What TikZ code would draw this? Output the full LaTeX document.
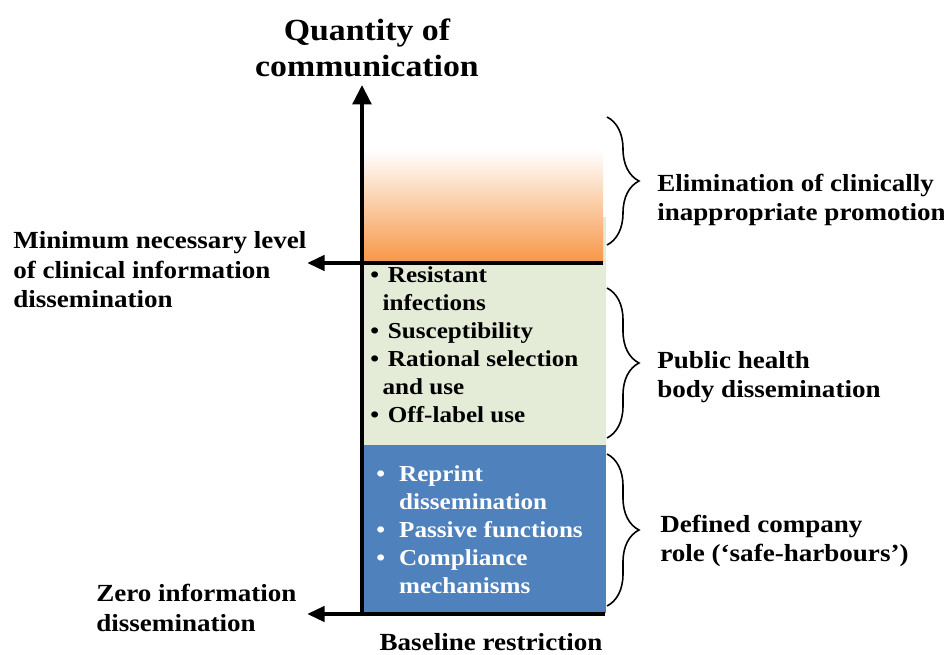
\documentclass[tikz,border=0pt]{standalone}
\usepackage{fontspec}
\setmainfont[FakeStretch=1.1]{Liberation Serif}
\usetikzlibrary{arrows.meta,positioning,decorations.pathreplacing}

\definecolor{promoorange}{RGB}{247,150,70}
\definecolor{healthgreen}{RGB}{228,235,214}
\definecolor{companyblue}{RGB}{79,129,189}

\begin{document}
\begin{tikzpicture}[x=0.02cm, y=-0.02cm,
    axisline/.style={line width=2.3pt, -{Triangle[length=11pt,width=10.5pt]}},
    levelline/.style={line width=2.5pt, -{Triangle[length=10pt,width=8.5pt]}},
    curly/.style={line width=0.9pt, decorate, decoration={brace, amplitude=0.64cm}},
    lbl/.style={font=\fontsize{14}{16.8}\selectfont\bfseries, align=left, inner sep=0pt},
    items/.style={font=\fontsize{13}{15.9}\selectfont\bfseries, inner sep=0pt}]
    \useasboundingbox (0,0) rectangle (944,655);

    % coloured bands
    \fill[healthgreen] (364,217) rectangle (606,445);
    \shade[top color=white, bottom color=promoorange] (364,150) rectangle (603,263);
    \fill[companyblue] (364,445) rectangle (606,613);

    % axis and the two levels
    \coordinate (origin) at (362,615);
    \coordinate (ytip) at (362,85);
    \coordinate (zeroend) at (605,614);
    \coordinate (zerotip) at (307,614);
    \coordinate (minend) at (603,263);
    \coordinate (mintip) at (307,263);
    \draw[axisline] (origin) -- (ytip);
    \draw[levelline] (zeroend) -- (zerotip);
    \draw[levelline] (minend) -- (mintip);

    \node[font=\fontsize{17.5}{20.5}\selectfont\bfseries, align=center] (title) at (367,48)
      {Quantity of\\communication};
    \node[lbl] (baseline) at (491,642) {Baseline restriction};

    % left labels
    \node[lbl, anchor=west] (minlevel) at (13,270)
      {Minimum necessary level\\of clinical information\\dissemination};
    \node[lbl, anchor=west] (zero) at (96,608) {Zero information\\dissemination};

    % contents of the bands
    \node[items, anchor=west] (greenlist) at (370,347) {%
      \begin{tabular}{@{}l@{\hspace{5pt}}l@{}}
        \textbullet & Resistant\\
                    & \hspace{-3pt}infections\\
        \textbullet & Susceptibility\\
        \textbullet & Rational selection\\
                    & \hspace{-3pt}and use\\
        \textbullet & Off-label use
      \end{tabular}};
    \node[items, text=white, anchor=west] (bluelist) at (376,532) {%
      \begin{tabular}{@{}l@{\hspace{8pt}}l@{}}
        \textbullet & Reprint\\
                    & dissemination\\
        \textbullet & Passive functions\\
        \textbullet & Compliance\\
                    & mechanisms
      \end{tabular}};

    % braces
    \draw[curly] (607,117) -- (607,245);
    \draw[curly] (607,288) -- (607,438);
    \draw[curly] (607,454) -- (607,606);

    % right labels
    \node[lbl, anchor=west] (elim) at (657,200)
      {Elimination of clinically\\inappropriate promotion};
    \node[lbl, anchor=west] (public) at (657,377) {Public health\\body dissemination};
    \node[lbl, anchor=west] (company) at (660,541) {Defined company\\role (‘safe-harbours’)};
\end{tikzpicture}
\end{document}
